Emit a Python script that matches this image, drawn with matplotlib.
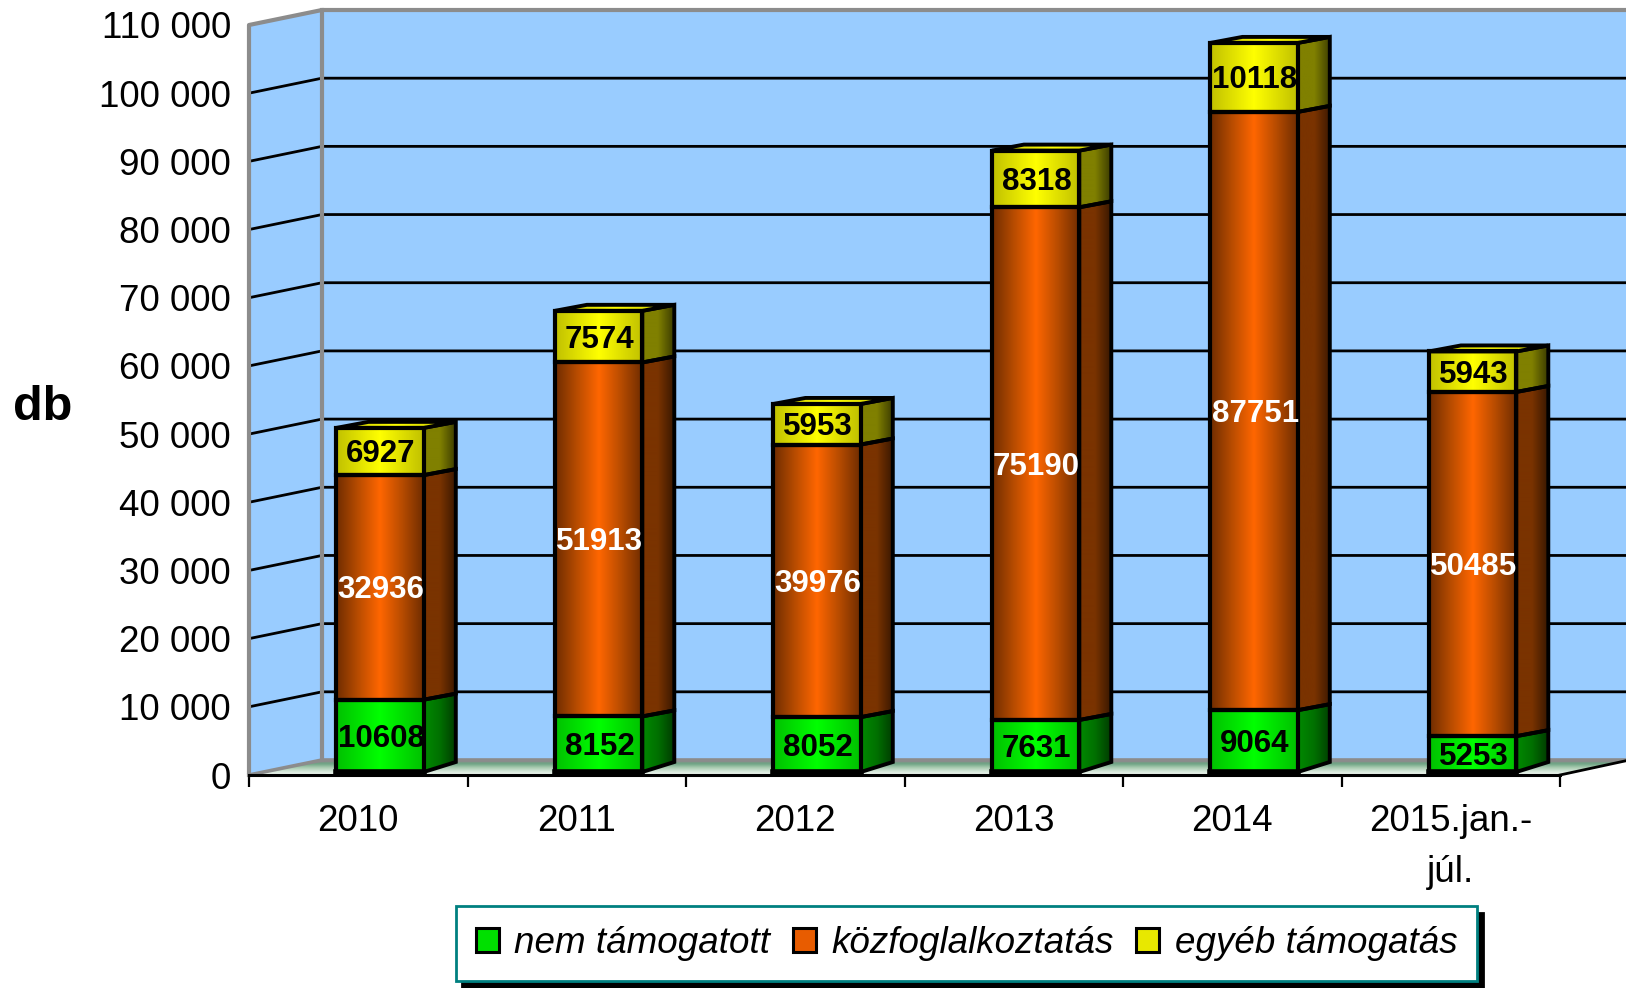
import matplotlib
matplotlib.use("Agg")
import matplotlib.pyplot as plt
import numpy as np
from matplotlib.colors import LinearSegmentedColormap
from matplotlib.patches import Patch, Polygon

plt.rcParams['font.family'] = ['Liberation Sans', 'DejaVu Sans']

years = ["2010", "2011", "2012", "2013", "2014", "2015.jan.-\njúl."]
nem_tamogatott = [10608, 8152, 8052, 7631, 9064, 5253]
kozfoglalkoztatas = [32936, 51913, 39976, 75190, 87751, 50485]
egyeb = [6927, 7574, 5953, 8318, 10118, 5943]
y_ticks = [0, 10000, 20000, 30000, 40000, 50000, 60000, 70000, 80000, 90000, 100000, 110000]
y_labels = ["0", "10 000", "20 000", "30 000", "40 000", "50 000", "60 000",
            "70 000", "80 000", "90 000", "100 000", "110 000"]

W, H = 1626, 988
# front plane of the chart in pixels
left, right, bottom, top = 249, 1560, 775, 25
px_x = 6 / (right - left)
px_y = 110000 / (bottom - top)
wall_dx, wall_dy = 73 * px_x, 15 * px_y
bar_dx, bar_dy, base_dy = 32 * px_x, 6 * px_y, 10 * px_y
bar_off, bar_w = 0.4, 0.4
base = 3 * px_y
x_end = (W - left) * px_x

fig = plt.figure(figsize=(W / 100, H / 100), dpi=100)
ax = fig.add_axes([left / W, 1 - bottom / H, (right - left) / W, (bottom - top) / H])


def gradient(pts, stops, z, vertical=False, outline=None):
    pts = np.array(pts)
    cmap = LinearSegmentedColormap.from_list("g", stops)
    g = np.linspace(0, 1, 256)
    g = g.reshape(-1, 1) if vertical else g.reshape(1, -1)
    im = ax.imshow(g, cmap=cmap, aspect="auto", origin="upper", zorder=z,
                   extent=[pts[:, 0].min(), pts[:, 0].max(), pts[:, 1].min(), pts[:, 1].max()])
    clip = Polygon(pts, closed=True, transform=ax.transData)
    im.set_clip_box(fig.bbox)
    im.set_clip_path(clip)
    if outline:
        ax.add_patch(Polygon(pts, closed=True, fill=False, edgecolor=outline[0],
                             linewidth=outline[1], zorder=z + 0.1, clip_on=False,
                             joinstyle="miter"))


# walls
ax.add_patch(Polygon([(0, 0), (wall_dx, wall_dy), (x_end, wall_dy), (x_end, 110000 + wall_dy),
                      (wall_dx, 110000 + wall_dy), (0, 110000)],
                     closed=True, facecolor="#99ccff", edgecolor="none", zorder=1, clip_on=False))

# floor
floor = [(0, 0), (wall_dx, wall_dy), (x_end, wall_dy), (x_end, wall_dy * 0.95), (6, 0)]
gradient(floor, ["#8a8a8a", "#6fa585", "#a8cbb0", "#d4e6d8", "#f2f8f4"], 1.5, vertical=True)

# gridlines on the side wall and the back wall
for v in y_ticks[1:-1]:
    ax.plot([0, wall_dx, x_end], [v, v + wall_dy, v + wall_dy], color="black", lw=2.0,
            zorder=2, clip_on=False, solid_joinstyle="miter")

# wall outline
ax.plot([0, 0, wall_dx, x_end], [0, 110000, 110000 + wall_dy, 110000 + wall_dy],
        color="#8c8c8c", lw=3, zorder=2.5, clip_on=False)
ax.plot([wall_dx, wall_dx], [wall_dy, 110000 + wall_dy], color="#8c8c8c", lw=3, zorder=2.5, clip_on=False)
ax.plot([0, wall_dx, x_end], [0, wall_dy, wall_dy], color="#8c8c8c", lw=2.6, zorder=1.8, clip_on=False)
ax.plot([6, x_end], [0, wall_dy * 0.95], color="black", lw=2.0, zorder=2.5, clip_on=False)

series = [
    (nem_tamogatott, ["#00c000", "#00ff00", "#00c000"], ["#008a00", "#007000", "#003c00"], "black"),
    (kozfoglalkoztatas, ["#6e2c00", "#b84c00", "#ff6600", "#b84c00", "#6e2c00"], ["#7a3300", "#7a3300", "#3a1800"], "white"),
    (egyeb, ["#c0c000", "#ffff00", "#c0c000"], ["#808000", "#808000", "#3c3c00"], "black"),
]

for i in range(len(years)):
    x0 = i + bar_off
    x1 = x0 + bar_w
    low = base
    z = 3 + i
    for vals, front, side, txt in series:
        high = low + vals[i]
        low_dy = base_dy if low == base else bar_dy
        gradient([(x1, low), (x1 + bar_dx, low + low_dy), (x1 + bar_dx, high + bar_dy), (x1, high)],
                 side, z, outline=("black", 2.8))
        gradient([(x0, low), (x1, low), (x1, high), (x0, high)], front, z + 0.2, outline=("black", 3))
        ax.text((x0 + x1) / 2 + 1 * px_x, (low + high) / 2 - 3 * px_y, str(vals[i]), color=txt, fontsize=22.5,
                fontweight="bold", ha="center", va="center", zorder=z + 0.5)
        low = high
    gradient([(x0, low), (x1, low), (x1 + bar_dx, low + bar_dy), (x0 + bar_dx, low + bar_dy)],
             ["#c0c000", "#ffff00", "#c0c000"], z + 0.1, outline=("black", 2.8))
    ax.plot([x0, x1], [base, base], color="black", lw=4, zorder=z + 0.4, clip_on=False)

ax.set_xlim(0, 6)
ax.set_ylim(0, 110000)
ax.set_facecolor("none")
for s in ["top", "right", "left"]:
    ax.spines[s].set_visible(False)
ax.spines["bottom"].set_linewidth(2.2)
ax.spines["bottom"].set_zorder(2.6)

ax.set_xticks(range(7))
ax.set_xticks(np.arange(6) + 0.5, labels=years, minor=True)
ax.tick_params(axis="x", which="major", length=8.5, width=1.6, labelbottom=False)
ax.tick_params(axis="x", which="minor", length=0, labelsize=26.5, pad=21)
for lab in ax.get_xticklabels(minor=True):
    lab.set_linespacing(1.6)
ax.set_yticks(y_ticks, labels=y_labels)
ax.tick_params(axis="y", length=0, labelsize=26.5, pad=13)

fig.text(43 / W, 1 - 407 / H, "db", fontsize=35, fontweight="bold", ha="center", va="center")

handles = [Patch(facecolor="#00e000", edgecolor="black", linewidth=2.2),
           Patch(facecolor="#e85c00", edgecolor="black", linewidth=2.2),
           Patch(facecolor="#e8e800", edgecolor="black", linewidth=2.2)]
leg = fig.legend(handles, ["nem támogatott", "közfoglalkoztatás", "egyéb támogatás"], ncol=3,
                 loc="lower left", bbox_to_anchor=(456 / W, 1 - 981 / H), borderaxespad=0,
                 fancybox=False, edgecolor="#008080", framealpha=1,
                 prop={"style": "italic", "size": 26.5}, handlelength=0.62, handleheight=0.62,
                 handletextpad=0.42, columnspacing=0.62, borderpad=0.54,
                 shadow={"ox": 4.5, "oy": -4.5, "facecolor": "black", "edgecolor": "black", "alpha": 1})
leg.get_frame().set_linewidth(2.0)

fig.savefig("out.png", dpi=100)
